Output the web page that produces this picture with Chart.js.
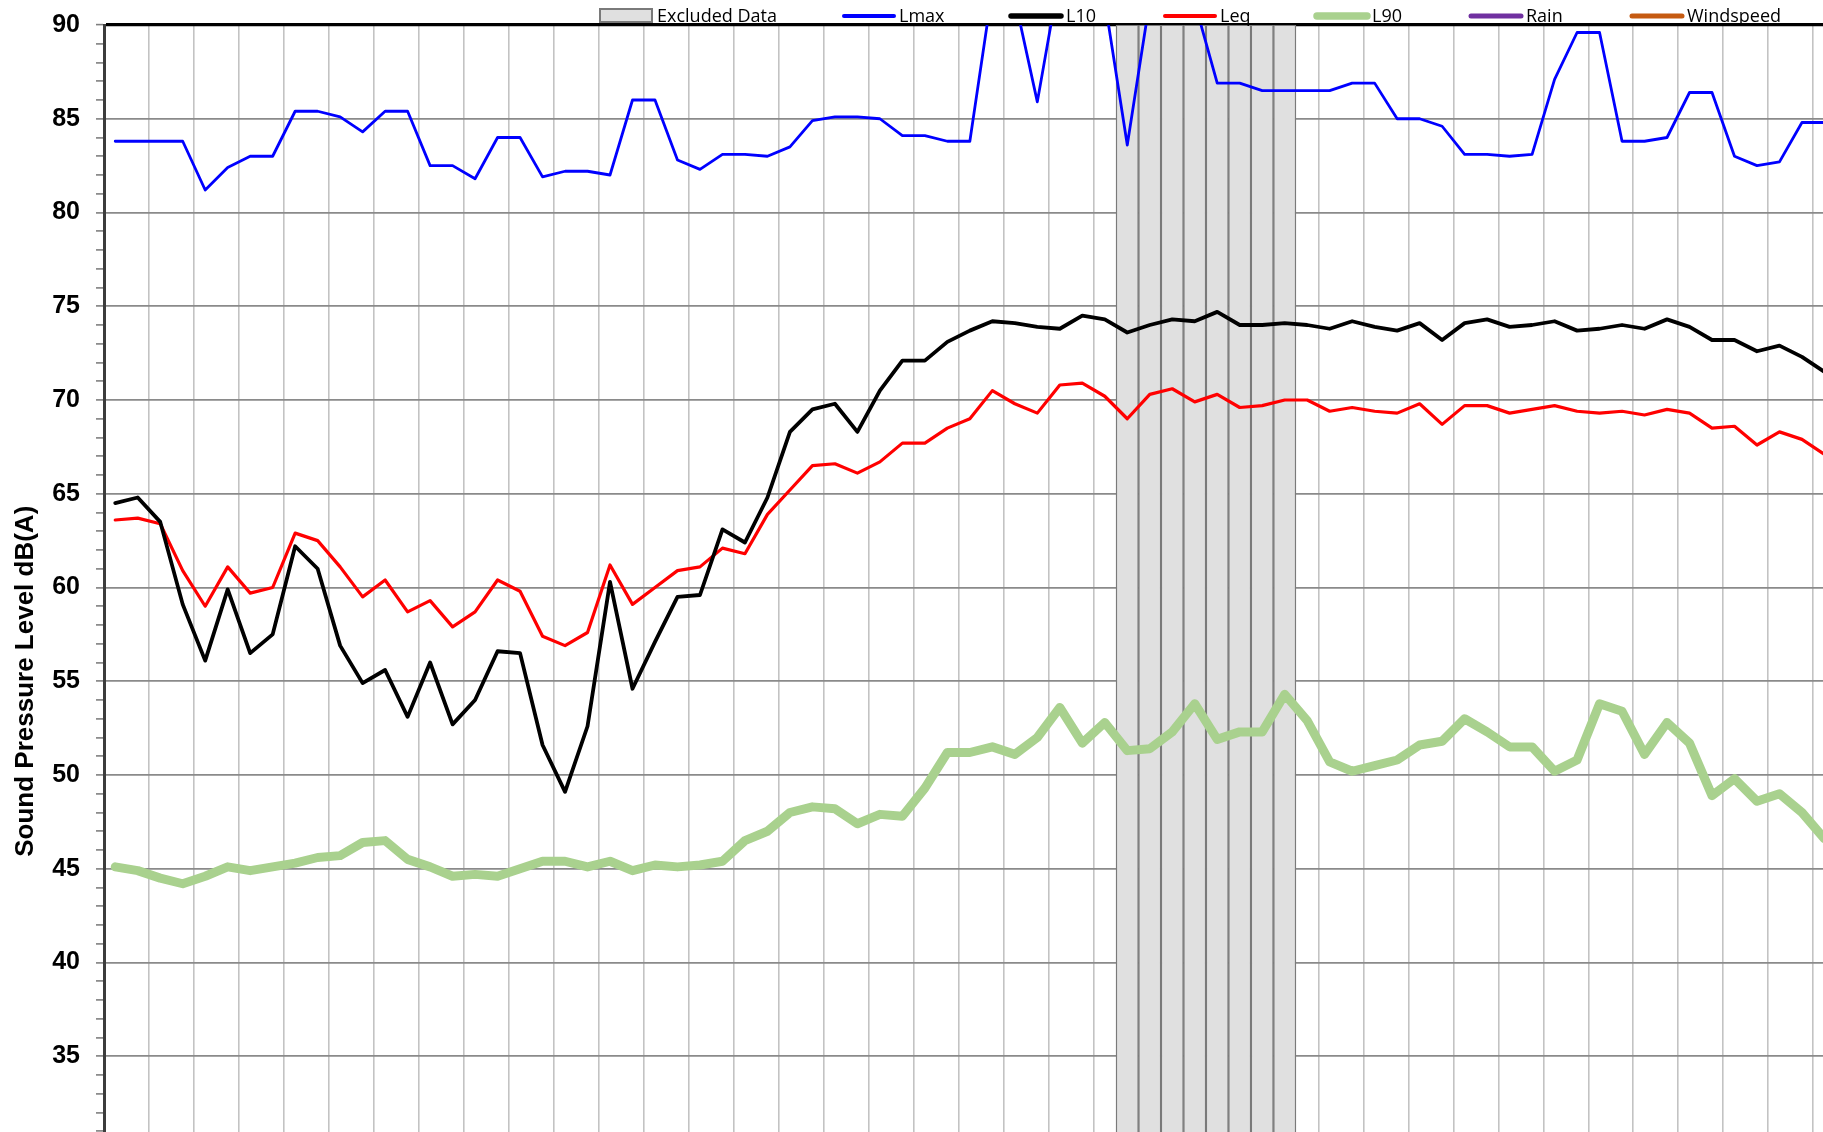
<!DOCTYPE html>
<html>
<head>
<meta charset="utf-8">
<title>Sound Pressure Level</title>
<script src="https://cdn.jsdelivr.net/npm/chart.js@4.4.1/dist/chart.umd.min.js"></script>
<style>
  html, body { margin: 0; padding: 0; background: #ffffff; overflow: hidden; }
  /* the original picture is a crop of a bigger chart: the plot runs on past the right and bottom edge */
  #wrap { position: absolute; left: 0; top: 0; width: 1850px; height: 1361px; }
</style>
</head>
<body>
<div id="wrap"><canvas id="noiseChart"></canvas></div>
<script>
//-----------------------------------------------------------------
//DATA  (15 min intervals, time labels are cut off in the original)

var intervals = Array.from({ length: 77 }, (_, i) => 'Interval ' + (i + 1));

var lmax = [83.8, 83.8, 83.8, 83.8, 81.2, 82.4, 83.0, 83.0, 85.4, 85.4,
            85.1, 84.3, 85.4, 85.4, 82.5, 82.5, 81.8, 84.0, 84.0, 81.9,
            82.2, 82.2, 82.0, 86.0, 86.0, 82.8, 82.3, 83.1, 83.1, 83.0,
            83.5, 84.9, 85.1, 85.1, 85.0, 84.1, 84.1, 83.8, 83.8, 91.9,
            91.4, 85.9, 92.7, 93.0, 91.3, 83.6, 91.3, 92.0, 91.2, 86.9,
            86.9, 86.5, 86.5, 86.5, 86.5, 86.9, 86.9, 85.0, 85.0, 84.6,
            83.1, 83.1, 83.0, 83.1, 87.1, 89.6, 89.6, 83.8, 83.8, 84.0,
            86.4, 86.4, 83.0, 82.5, 82.7, 84.8, 84.8];

var l10 = [64.5, 64.8, 63.5, 59.1, 56.1, 59.9, 56.5, 57.5, 62.2, 61.0,
           56.9, 54.9, 55.6, 53.1, 56.0, 52.7, 54.0, 56.6, 56.5, 51.6,
           49.1, 52.6, 60.3, 54.6, 57.1, 59.5, 59.6, 63.1, 62.4, 64.8,
           68.3, 69.5, 69.8, 68.3, 70.5, 72.1, 72.1, 73.1, 73.7, 74.2,
           74.1, 73.9, 73.8, 74.5, 74.3, 73.6, 74.0, 74.3, 74.2, 74.7,
           74.0, 74.0, 74.1, 74.0, 73.8, 74.2, 73.9, 73.7, 74.1, 73.2,
           74.1, 74.3, 73.9, 74.0, 74.2, 73.7, 73.8, 74.0, 73.8, 74.3,
           73.9, 73.2, 73.2, 72.6, 72.9, 72.3, 71.5];

var leq = [63.6, 63.7, 63.4, 60.9, 59.0, 61.1, 59.7, 60.0, 62.9, 62.5,
           61.1, 59.5, 60.4, 58.7, 59.3, 57.9, 58.7, 60.4, 59.8, 57.4,
           56.9, 57.6, 61.2, 59.1, 60.0, 60.9, 61.1, 62.1, 61.8, 63.9,
           65.2, 66.5, 66.6, 66.1, 66.7, 67.7, 67.7, 68.5, 69.0, 70.5,
           69.8, 69.3, 70.8, 70.9, 70.2, 69.0, 70.3, 70.6, 69.9, 70.3,
           69.6, 69.7, 70.0, 70.0, 69.4, 69.6, 69.4, 69.3, 69.8, 68.7,
           69.7, 69.7, 69.3, 69.5, 69.7, 69.4, 69.3, 69.4, 69.2, 69.5,
           69.3, 68.5, 68.6, 67.6, 68.3, 67.9, 67.1];

var l90 = [45.1, 44.9, 44.5, 44.2, 44.6, 45.1, 44.9, 45.1, 45.3, 45.6,
           45.7, 46.4, 46.5, 45.5, 45.1, 44.6, 44.7, 44.6, 45.0, 45.4,
           45.4, 45.1, 45.4, 44.9, 45.2, 45.1, 45.2, 45.4, 46.5, 47.0,
           48.0, 48.3, 48.2, 47.4, 47.9, 47.8, 49.3, 51.2, 51.2, 51.5,
           51.1, 52.0, 53.6, 51.7, 52.8, 51.3, 51.4, 52.3, 53.8, 51.9,
           52.3, 52.3, 54.3, 52.9, 50.7, 50.2, 50.5, 50.8, 51.6, 51.8,
           53.0, 52.3, 51.5, 51.5, 50.2, 50.8, 53.8, 53.4, 51.1, 52.8,
           51.7, 48.9, 49.8, 48.6, 49.0, 48.0, 46.6];

// no rain / wind data in this period, the series only show up in the legend
var rain = [];
var windspeed = [];

// intervals flagged as excluded data (grey bars)
var excludedIdx = [45, 46, 47, 48, 49, 50, 51, 52];

var yMin = 20;
var yMax = 90;

var excludedData = intervals.map((_, i) => excludedIdx.includes(i) ? yMax : null);

//-----------------------------------------------------------------
//LEGEND (drawn above the plot like the Excel one)

const legendX = [600, 842, 1009, 1163, 1315, 1469, 1630];
const legendLineW = [0, 4, 5.5, 4, 7.5, 5, 5];

const topLegend = {
    id: 'topLegend',
    afterDraw(chart) {
        const ctx = chart.ctx;
        ctx.save();
        ctx.font = '18px "Open Sans"';
        ctx.textBaseline = 'alphabetic';
        chart.data.datasets.forEach((ds, i) => {
            const x = legendX[i];
            if (ds.type === 'bar') {
                ctx.fillStyle = ds.backgroundColor;
                ctx.fillRect(x, 9, 52, 13);
                ctx.strokeStyle = ds.borderColor;
                ctx.lineWidth = 2;
                ctx.strokeRect(x, 9, 52, 13);
            } else {
                ctx.strokeStyle = ds.borderColor;
                ctx.lineWidth = legendLineW[i];
                ctx.lineCap = 'round';
                ctx.beginPath();
                ctx.moveTo(x + 2, 16);
                ctx.lineTo(x + 52, 16);
                ctx.stroke();
            }
            ctx.fillStyle = '#000000';
            ctx.fillText(ds.label, x + 57, 22);
        });
        ctx.restore();
    }
};

//-----------------------------------------------------------------
//CHART

Chart.defaults.font.family = '"Liberation Sans", Arial, sans-serif';
Chart.defaults.color = '#000000';

const lineStyle = {
    type: 'line',
    pointRadius: 0,
    pointHoverRadius: 0,
    tension: 0,
    borderJoinStyle: 'round',
    borderCapStyle: 'round',
    fill: false,
};

const ctxs = document.getElementById('noiseChart').getContext('2d');

const noiseChart = new Chart(ctxs, {
    type: 'bar',
    data: {
        labels: intervals,
        datasets: [
            {
                type: 'bar',
                label: 'Excluded Data',
                data: excludedData,
                backgroundColor: '#e0e0e0',
                borderColor: '#7a7a7a',
                borderWidth: 1.4,
                borderSkipped: false,
                barPercentage: 1,
                categoryPercentage: 1,
                order: 10,
            },
            Object.assign({}, lineStyle, {
                label: 'Lmax',
                data: lmax,
                borderColor: '#0000ff',
                borderWidth: 2.8,
                order: 3,
            }),
            Object.assign({}, lineStyle, {
                label: 'L10',
                data: l10,
                borderColor: '#000000',
                borderWidth: 3.8,
                order: 1,
            }),
            Object.assign({}, lineStyle, {
                label: 'Leq',
                data: leq,
                borderColor: '#ff0000',
                borderWidth: 3.2,
                order: 2,
            }),
            Object.assign({}, lineStyle, {
                label: 'L90',
                data: l90,
                borderColor: '#a9d18e',
                borderWidth: 9,
                order: 4,
            }),
            Object.assign({}, lineStyle, {
                label: 'Rain',
                data: rain,
                borderColor: '#7030a0',
                borderWidth: 3,
                order: 5,
            }),
            Object.assign({}, lineStyle, {
                label: 'Windspeed',
                data: windspeed,
                borderColor: '#c55a11',
                borderWidth: 3,
                order: 6,
            }),
        ],
    },
    options: {
        responsive: true,
        maintainAspectRatio: false,
        animation: false,
        layout: {
            padding: { left: 0, top: 25, right: 14.3, bottom: 0 },
        },
        scales: {
            x: {
                offset: true,
                ticks: { display: false },
                grid: {
                    offset: true,
                    drawTicks: false,
                    color: (c) => c.index % 2 === 0 ? '#c3c3c3' : 'rgba(0,0,0,0)',
                    lineWidth: 1.6,
                },
                border: { display: false },
                afterFit: (scale) => { scale.height = 0; },
            },
            y: {
                min: yMin,
                max: yMax,
                ticks: {
                    stepSize: 1,
                    autoSkip: false,
                    padding: 16,
                    color: '#000000',
                    // small lineHeight so the labels don't push the plot area in
                    font: { size: 25, weight: 'bold', lineHeight: 0.6 },
                    callback: function (value) {
                        return value % 5 === 0 ? value : '';
                    },
                },
                grid: {
                    color: (c) => {
                        if (c.tick.value === yMax) return '#000000';
                        return c.tick.value % 5 === 0 ? '#8a8a8a' : 'rgba(0,0,0,0)';
                    },
                    lineWidth: (c) => c.tick.value === yMax ? 3.2 : 1.8,
                    tickColor: '#7f7f7f',
                    tickLength: 8,
                    tickWidth: 1.6,
                },
                border: { color: '#3c3c3c', width: 3 },
                title: {
                    display: true,
                    text: 'Sound Pressure Level dB(A)',
                    color: '#000000',
                    font: { size: 26, weight: 'bold' },
                    padding: { top: 10, bottom: 0 },
                },
                afterFit: (scale) => { scale.width = 104; },
            },
        },
        plugins: {
            legend: { display: false },
            tooltip: { enabled: false },
        },
    },
    plugins: [topLegend],
});
</script>
</body>
</html>
